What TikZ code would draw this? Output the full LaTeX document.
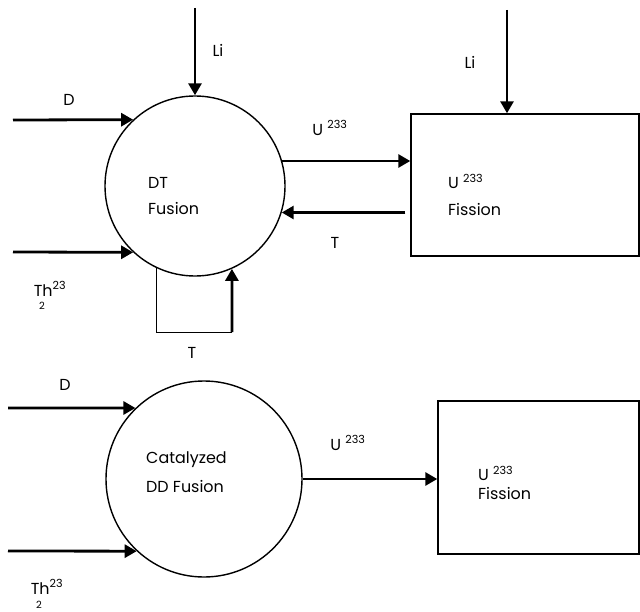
\documentclass[tikz,border=0pt]{standalone}
\usepackage{fontspec}
\setmainfont{Poppins}
\usetikzlibrary{arrows.meta,calc}
\newcommand{\flowwidth}{2.8bp}
\newcommand{\rimwidth}{1.4bp}
\newcommand{\txtsize}{16}
\tikzset{
  flow/.style={line width=\flowwidth, -{Triangle[length=12bp,width=13bp]}},
  ret/.style={line width=1bp},
  reactor/.style={draw, circle, line width=\rimwidth, inner sep=0},
  unit/.style={draw, rectangle, line width=\rimwidth, inner sep=0},
  lbl/.style={font=\fontsize{\txtsize}{#1}\selectfont, align=left, inner sep=0},
  lbl/.default=18bp,
  sub/.style={font=\fontsize{10}{12}\selectfont, inner sep=0}
}
\begin{document}
\begin{tikzpicture}[x=1bp,y=-1bp]
\useasboundingbox (0,0) rectangle (640,612);
%reactors and fission units
\node[reactor, minimum size=180bp] (dt) at (195,186) {};
\node[unit, minimum width=228bp, minimum height=142bp] (fis1) at (525,185) {};
\node[reactor, minimum size=196bp] (cdd) at (204,479) {};
\node[unit, minimum width=201bp, minimum height=153bp] (fis2) at (538.5,477.5) {};
\node[lbl=26bp, anchor=west] (dttext) at (148,196) {DT\\Fusion};
\node[lbl=27bp, anchor=west] (fis1text) at (448,195) {U \textsuperscript{233}\\Fission};
\node[lbl=29bp, anchor=west] (cddtext) at (146,472) {Catalyzed\\DD Fusion};
\node[lbl=19bp, anchor=west] (fis2text) at (478,483) {U \textsuperscript{233}\\Fission};
%free ends
\coordinate (li1) at (195,8);
\coordinate (d1) at (13,120);
\coordinate (th1) at (13,252);
\coordinate (li2) at (507,10);
\coordinate (loop) at (232,332);
\coordinate (d2) at (8,408);
\coordinate (th2) at (8,551);
%upper flows
\draw[flow] (li1) -- (dt.north);
\draw[flow] (d1) -- (dt.133);
\draw[flow] (th1) -- (dt.227);
\draw[flow] (dt.16) -- (dt.16 -| fis1.west);
\draw[flow] ($(dt.-17 -| fis1.west)+(-5,0)$) -- (dt.-17);
\draw[ret] (dt.245) |- (loop);
\draw[flow] (loop) -- (dt.294);
\draw[flow] (li2) -- (li2 |- fis1.north);
%lower flows
\draw[flow] (d2) -- (cdd.134);
\draw[flow] (th2) -- (cdd.227);
\draw[flow] (cdd.east) -- (cdd.east -| fis2.west);
%labels
\node[lbl] (li1lbl) at (218,50) {Li};
\node[lbl] (d1lbl) at (69,100) {D};
\node[lbl] (th1lbl) at (50,289) {Th\textsuperscript{23}};
\node[sub] (th1sub) at (42,306) {2};
\node[lbl] (u1lbl) at (330,128) {U \textsuperscript{233}};
\node[lbl] (t1lbl) at (335,243) {T};
\node[lbl] (li2lbl) at (470,62) {Li};
\node[lbl] (t2lbl) at (192,353) {T};
\node[lbl] (d2lbl) at (65,385) {D};
\node[lbl] (u2lbl) at (348,443) {U \textsuperscript{233}};
\node[lbl] (th2lbl) at (47,587) {Th\textsuperscript{23}};
\node[sub] (th2sub) at (39,605) {2};
\end{tikzpicture}
\end{document}
